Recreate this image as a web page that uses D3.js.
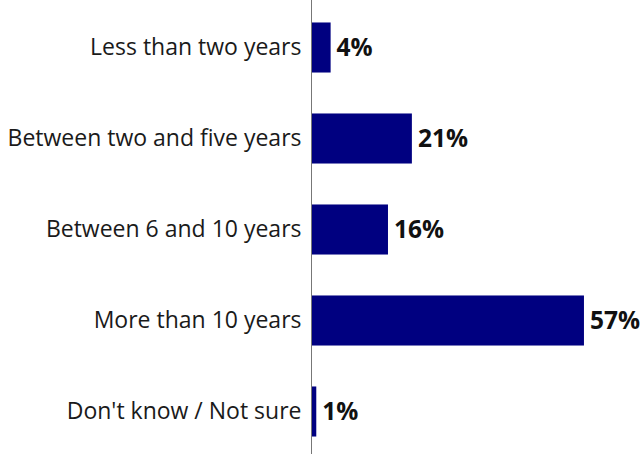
<!DOCTYPE html>
<html>
<head>
<meta charset="utf-8">
<script src="https://cdn.jsdelivr.net/npm/d3@7"></script>
<style>
  body { margin: 0; background: #fff; }
  svg { display: block; }
</style>
</head>
<body>
<svg id="canvas" width="644" height="456"></svg>
<script>
let categories = ['Less than two years', 'Between two and five years', 'Between 6 and 10 years', 'More than 10 years', "Don't know / Not sure"]
let values = [4, 21, 16, 57, 1]
let valueLabels = ['4%', '21%', '16%', '57%', '1%']

let canvas = d3.select('#canvas')
let font = "'Open Sans', 'Noto Sans', sans-serif"

let yScale = d3.scaleBand()
  .domain(categories)
  .range([2, 457])
  .paddingInner(0.45)
  .paddingOuter(0.225)

let xScale = d3.scaleLinear()
  .domain([0, 100])
  .range([311.5, 311.5 + 478])

// bars
canvas.selectAll('rect.bar')
  .data(values)
  .enter()
  .append('rect')
  .attr('class', 'bar')
  .attr('x', xScale(0))
  .attr('y', (d, i) => yScale(categories[i]))
  .attr('width', (d) => xScale(d) - xScale(0))
  .attr('height', yScale.bandwidth())
  .attr('fill', '#000080')

// category labels from d3 axis
let yAxis = d3.axisLeft(yScale).tickSize(0).tickPadding(10)
let axisG = canvas.append('g')
  .attr('transform', 'translate(' + xScale(0) + ',0)')
  .call(yAxis)
axisG.select('.domain').remove()
axisG.selectAll('text')
  .attr('font-family', font)
  .attr('font-size', '23px')
  .attr('fill', '#1a1a1a')

canvas.append('line')
  .attr('x1', xScale(0)).attr('x2', xScale(0))
  .attr('y1', 0).attr('y2', 454)
  .attr('stroke', '#777')
  .attr('stroke-width', 1)

// value labels
canvas.selectAll('text.val')
  .data(values)
  .enter()
  .append('text')
  .attr('class', 'val')
  .attr('x', (d) => xScale(d) + 6)
  .attr('y', (d, i) => yScale(categories[i]) + yScale.bandwidth() / 2)
  .attr('dy', '0.35em')
  .attr('font-family', font)
  .attr('font-weight', 'bold')
  .attr('font-size', '24.5px')
  .attr('fill', '#111')
  .text((d, i) => valueLabels[i])
</script>
</body>
</html>
